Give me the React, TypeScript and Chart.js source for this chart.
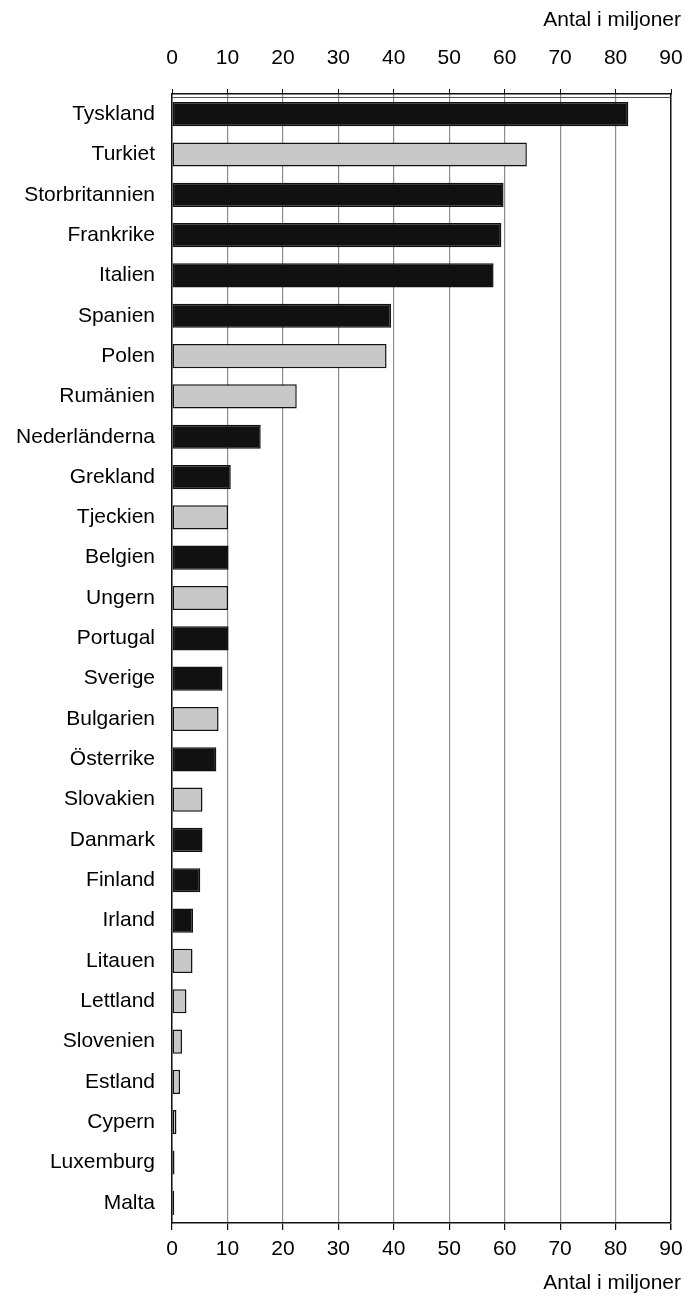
import React, { useEffect, useRef } from "react";
import { Chart, registerables } from "chart.js";

Chart.register(...registerables);

const countries = [
  "Tyskland", "Turkiet", "Storbritannien", "Frankrike", "Italien", "Spanien",
  "Polen", "Rumänien", "Nederländerna", "Grekland", "Tjeckien", "Belgien",
  "Ungern", "Portugal", "Sverige", "Bulgarien", "Österrike", "Slovakien",
  "Danmark", "Finland", "Irland", "Litauen", "Lettland", "Slovenien",
  "Estland", "Cypern", "Luxemburg", "Malta",
];

const populations = [
  82.3, 64.0, 59.8, 59.4, 58.0, 39.5,
  38.7, 22.5, 16.0, 10.6, 10.1, 10.2,
  10.1, 10.2, 9.1, 8.4, 8.0, 5.5,
  5.5, 5.1, 3.8, 3.7, 2.6, 1.8,
  1.45, 0.8, 0.45, 0.4,
];

// true = dark bar group, false = light grey bar group
const darkGroup = [
  true, false, true, true, true, true,
  false, false, true, true, false, true,
  false, true, true, false, true, false,
  true, true, true, false, false, false,
  false, false, true, true,
];

const xTicks = [0, 10, 20, 30, 40, 50, 60, 70, 80, 90];
const axisTitle = "Antal i miljoner";

const FONT = "'Liberation Sans', Arial, sans-serif";
const FS = 21;

export default function App() {
  const canvasRef = useRef<HTMLCanvasElement | null>(null);

  useEffect(() => {
    document.body.style.margin = "0";
    const canvas = canvasRef.current;
    if (!canvas) return;

    const titlesPlugin = {
      id: "axisTitles",
      afterDraw(chart: any) {
        const ctx = chart.ctx;
        const area = chart.chartArea;
        ctx.save();
        ctx.strokeStyle = "#555";
        ctx.lineWidth = 1;
        ctx.beginPath();
        ctx.moveTo(area.left, area.top + 3.5);
        ctx.lineTo(area.right, area.top + 3.5);
        ctx.stroke();
        ctx.fillStyle = "#000";
        ctx.font = `${FS}px ${FONT}`;
        ctx.textAlign = "right";
        ctx.textBaseline = "middle";
        ctx.fillText(axisTitle, 681, 20);
        ctx.fillText(axisTitle, 681, 1283);
        ctx.restore();
      },
    };

    const fitX = (h: number) => (s: any) => {
      s.height = h;
      s.paddingLeft = 0;
      s.paddingRight = 0;
    };

    const chart = new Chart(canvas, {
      type: "bar",
      data: {
        labels: countries,
        datasets: [
          {
            data: populations,
            backgroundColor: darkGroup.map((d) => (d ? "#111111" : "#c8c8c8")),
            borderColor: "#111111",
            borderWidth: 1.5,
            borderSkipped: false,
            barPercentage: 0.6,
            categoryPercentage: 1.0,
            xAxisID: "x",
          },
        ],
      },
      options: {
        indexAxis: "y",
        animation: false,
        responsive: false,
        layout: { padding: { left: 0, right: 14, top: 0, bottom: 0 } },
        plugins: {
          legend: { display: false },
          tooltip: { enabled: false },
        },
        scales: {
          x: {
            position: "bottom",
            min: 0,
            max: 90,
            afterBuildTicks: (s: any) => {
              s.ticks = xTicks.map((v) => ({ value: v }));
            },
            afterFit: fitX(79),
            ticks: {
              color: "#000",
              font: { family: FONT, size: FS },
              padding: 7,
              maxRotation: 0,
            },
            grid: {
              color: (c: any) => (c.tick && c.tick.value === 90 ? "#111" : "#8c8c8c"),
              lineWidth: (c: any) => (c.tick && c.tick.value === 90 ? 1.5 : 1.2),
              tickColor: "#111",
              tickLength: 7,
              drawOnChartArea: true,
            },
            border: { display: true, color: "#111", width: 1.5 },
          },
          x2: {
            position: "top",
            min: 0,
            max: 90,
            afterBuildTicks: (s: any) => {
              s.ticks = xTicks.map((v) => ({ value: v }));
            },
            afterFit: fitX(94),
            ticks: {
              color: "#000",
              font: { family: FONT, size: FS },
              padding: 18,
              maxRotation: 0,
            },
            grid: {
              color: "#111",
              tickColor: "#111",
              tickLength: 5,
              drawOnChartArea: false,
            },
            border: { display: true, color: "#111", width: 1.5 },
          },
          y: {
            position: "left",
            afterFit: (s: any) => {
              s.width = 172;
              s.paddingTop = 0;
              s.paddingBottom = 0;
            },
            ticks: {
              color: "#000",
              font: { family: FONT, size: FS },
              padding: 9,
            },
            grid: { display: false },
            border: { display: true, color: "#111", width: 1.5 },
          },
        },
      },
      plugins: [titlesPlugin],
    } as any);

    return () => chart.destroy();
  }, []);

  return (
    <div style={{ width: 685, height: 1302 }}>
      <canvas ref={canvasRef} width={685} height={1302} style={{ display: "block" }} />
    </div>
  );
}
